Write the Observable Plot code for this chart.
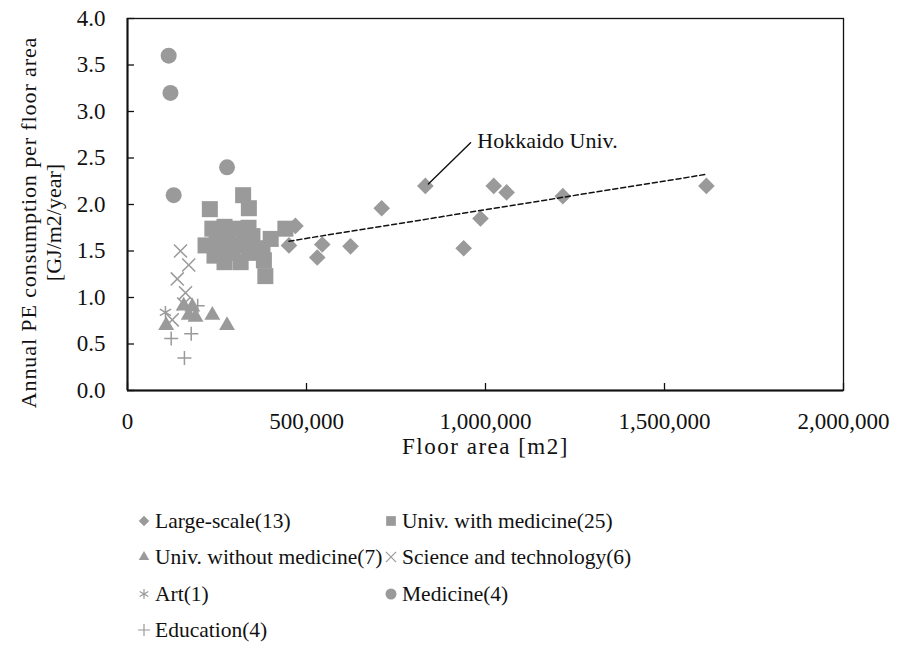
<!DOCTYPE html>
<html><head><meta charset="utf-8">
<script src="https://cdn.jsdelivr.net/npm/d3@7"></script>
<script src="https://cdn.jsdelivr.net/npm/@observablehq/plot@0.6"></script>
<style>
body{margin:0;background:#fff;font-family:"Liberation Serif",serif;}
#chart{position:relative;width:900px;height:658px;overflow:hidden;}
.item{position:absolute;display:flex;align-items:center;height:30px;font-size:21.5px;letter-spacing:0px;color:#111;white-space:nowrap;}
.item svg{margin-right:3px;flex:none;}
</style></head><body><div id="chart"></div>
<script>
// ---- data ----
const largeX = [832000, 1023000, 1059000, 1216000, 1617000, 986000, 939000, 623000, 544000, 530000, 451000, 469000, 710000];
const largeY = [2.20, 2.20, 2.13, 2.09, 2.20, 1.85, 1.53, 1.55, 1.57, 1.43, 1.56, 1.77, 1.96];
const withMedX = [230000, 323000, 339000, 385000, 441000, 400000, 381000,
  237000, 271000, 304000, 338000, 218000, 249000, 282000, 327000, 349000,
  243000, 271000, 293000, 316000, 338000, 360000, 260000, 304000, 377000];
const withMedY = [1.95, 2.10, 1.96, 1.23, 1.74, 1.63, 1.40,
  1.74, 1.76, 1.74, 1.75, 1.56, 1.61, 1.61, 1.61, 1.66,
  1.45, 1.38, 1.48, 1.38, 1.48, 1.50, 1.50, 1.56, 1.53];
const withoutMedX = [108000, 157000, 181000, 190000, 171000, 237000, 278000];
const withoutMedY = [0.70, 0.91, 0.90, 0.79, 0.81, 0.81, 0.70];
const sciX = [148000, 171000, 139000, 162000, 125000, 157000];
const sciY = [1.50, 1.35, 1.20, 1.05, 0.76, 0.93];
const artX = [106000];
const artY = [0.84];
const medicineX = [115000, 120000, 278000, 129000];
const medicineY = [3.60, 3.20, 2.40, 2.10];
const eduX = [122000, 178000, 159000, 196000];
const eduY = [0.56, 0.61, 0.35, 0.91];

const seriesNames = ["Large-scale(13)", "Univ. with medicine(25)", "Univ. without medicine(7)",
  "Science and technology(6)", "Art(1)", "Medicine(4)", "Education(4)"];
const xTicks = [0, 500000, 1000000, 1500000, 2000000];
const yTicks = [0, 0.5, 1.0, 1.5, 2.0, 2.5, 3.0, 3.5, 4.0];
const xLabel = "Floor area [m2]";
const yLabel = "Annual PE consumption per floor area\n[GJ/m2/year]";
const annotation = "Hokkaido Univ.";

const pts = (xs, ys) => xs.map((x, i) => ({x, y: ys[i]}));
const large = pts(largeX, largeY);
const withMed = pts(withMedX, withMedY);
const withoutMed = pts(withoutMedX, withoutMedY);
const sci = pts(sciX, sciY);
const art = pts(artX, artY);
const medicine = pts(medicineX, medicineY);
const edu = pts(eduX, eduY);
const hokkaido = [large[0]];

const gray = "#9a9a9a";
const W = 900, H = 480, mL = 127, mR = 57, mT = 18, mB = 90;
const plotW = W - mL - mR, plotH = H - mT - mB;
const lineShape = {draw(context, l) { context.moveTo(0, 0); context.lineTo(0, -l); }};

const chart = Plot.plot({
  width: W, height: H, marginLeft: mL, marginRight: mR, marginTop: mT, marginBottom: mB,
  style: {fontFamily: "'Liberation Serif', serif", fontSize: "23px", color: "#111", background: "#fff", overflow: "visible"},
  x: {domain: [0, 2000000]},
  y: {domain: [0, 4]},
  marks: [
    Plot.frame({stroke: "#111", strokeWidth: 1.3}),
    Plot.tickX(xTicks, {x: d => d, insetTop: plotH - 7, stroke: "#111", strokeWidth: 1.3}),
    Plot.tickY(yTicks, {y: d => d, insetRight: plotW - 7, stroke: "#111", strokeWidth: 1.3}),
    Plot.ruleX([0], {stroke: "#111", strokeWidth: 2}),
    Plot.ruleY([0], {stroke: "#111", strokeWidth: 2}),
    Plot.axisX({ticks: xTicks, tickSize: 0, tickPadding: 22, tickFormat: d3.format(","), label: null, fontSize: 23}),
    Plot.axisY({ticks: yTicks, tickSize: 0, tickPadding: 22, tickFormat: d3.format(".1f"), label: null, fontSize: 23}),
    Plot.dot(large, {x: "x", y: "y", symbol: "diamond2", r: 7.5, fill: gray, stroke: "none"}),
    Plot.dot(withMed, {x: "x", y: "y", symbol: "square2", r: 10.2, fill: gray, stroke: "none"}),
    Plot.dot(withoutMed, {x: "x", y: "y", symbol: "triangle2", r: 7.6, fill: gray, stroke: "none"}),
    Plot.dot(sci, {x: "x", y: "y", symbol: "times", r: 6.0, stroke: gray, strokeWidth: 1.5, fill: "none"}),
    Plot.dot(art, {x: "x", y: "y", symbol: "asterisk", r: 6.1, stroke: gray, strokeWidth: 1.5, fill: "none"}),
    Plot.dot(medicine, {x: "x", y: "y", symbol: "circle", r: 8, fill: gray, stroke: "none"}),
    Plot.dot(edu, {x: "x", y: "y", symbol: "plus", r: 4.6, stroke: gray, strokeWidth: 1.5, fill: "none"}),
    Plot.linearRegressionY(large, {x: "x", y: "y", ci: 0, stroke: "#111", strokeWidth: 1.5, strokeDasharray: "5,3"}),
    Plot.vector(hokkaido, {x: "x", y: "y", length: 59, rotate: 45.7, anchor: "start", shape: lineShape, stroke: "#111", strokeWidth: 1.4, dx: 3, dy: -2}),
    Plot.text(hokkaido, {x: "x", y: "y", text: () => annotation, dx: 52, dy: -45, textAnchor: "start", fontSize: 22, fill: "#111"}),
    Plot.text([xLabel], {frameAnchor: "bottom", dy: 63, fontSize: 23, fill: "#111"}),
    Plot.text([yLabel], {frameAnchor: "left", textAnchor: "middle", lineAnchor: "middle", rotate: -90, dx: -87, dy: 18, fontSize: 22, lineHeight: 1.15, fill: "#111"})
  ]
});
// letter spacing for the serif texts (mark order: annotation, x label, y label)
const spacing = ["0px", "1.5px", "0px"];
d3.select(chart).selectAll('g[aria-label="text"]').each(function(d, i) { d3.select(this).style("letter-spacing", spacing[i] || "0px"); });
// first line of the y title a little wider, as in the reference
d3.select(chart).selectAll('g[aria-label="text"]').filter((d, i, n) => i === 2).selectAll("tspan").each(function(d, i) {
  d3.select(this).style("letter-spacing", i === 0 ? "0.9px" : "0px");
});
document.getElementById("chart").appendChild(chart);

// ---- legend ----
const legendSymbols = [
  {sym: d3.symbolDiamond2, size: 70, fill: true},
  {sym: d3.symbolSquare2, size: 120, fill: true},
  {sym: d3.symbolTriangle2, size: 80, fill: true},
  {sym: d3.symbolTimes, size: 70, fill: false},
  {sym: d3.symbolAsterisk, size: 70, fill: false},
  {sym: d3.symbolCircle, size: 95, fill: true},
  {sym: d3.symbolPlus, size: 50, fill: false}
];
const rowY = [521, 557, 594, 630];
const colX = [136, 383];
seriesNames.forEach((name, i) => {
  const row = Math.floor(i / 2), col = i % 2;
  const div = document.createElement("div");
  div.className = "item";
  div.style.left = colX[col] + "px";
  div.style.top = (rowY[row] - 15) + "px";
  const s = legendSymbols[i];
  const path = d3.symbol(s.sym, s.size)();
  div.innerHTML = `<svg width="16" height="16" viewBox="-8 -8 16 16"><path d="${path}" fill="${s.fill ? gray : "none"}" stroke="${s.fill ? "none" : gray}" stroke-width="1.2"/></svg><span>${name}</span>`;
  document.getElementById("chart").appendChild(div);
});
</script></body></html>
